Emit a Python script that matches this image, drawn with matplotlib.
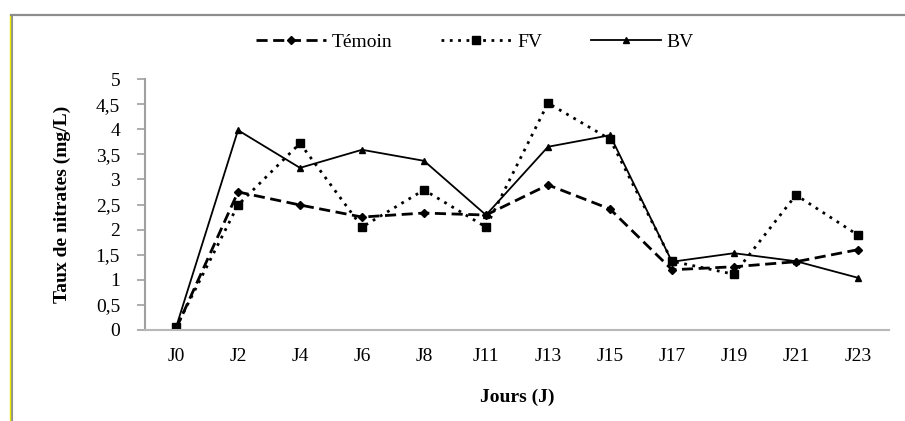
import matplotlib
matplotlib.use("Agg")
import matplotlib.pyplot as plt
from matplotlib.lines import Line2D
from matplotlib.ticker import FuncFormatter

plt.rcParams['font.family'] = ['Liberation Serif', 'DejaVu Serif']

jours = ['J0', 'J2', 'J4', 'J6', 'J8', 'J11', 'J13', 'J15', 'J17', 'J19', 'J21', 'J23']
temoin = [0.02, 2.75, 2.49, 2.25, 2.33, 2.29, 2.89, 2.41, 1.20, 1.26, 1.36, 1.60]
fv = [0.05, 2.49, 3.72, 2.05, 2.79, 2.05, 4.52, 3.80, 1.37, 1.11, 2.69, 1.89]
bv = [0.05, 3.98, 3.23, 3.59, 3.37, 2.29, 3.65, 3.88, 1.36, 1.53, 1.37, 1.04]

fig = plt.figure(figsize=(9.05, 4.21), dpi=100)
ax = fig.add_axes([145 / 905, (421 - 330) / 421, 744 / 905, 251 / 421])

x = range(len(jours))
ax.plot(x, temoin, color='black', lw=2, ls=(0, (4, 2)), marker='D', ms=4, label='Témoin')
ax.plot(x, fv, color='black', lw=2, ls=(0, (1, 2)), marker='s', ms=6, label='FV')
ax.plot(x, bv, color='black', lw=1.3, ls='-', marker='^', ms=5, label='BV')

ax.set_xlim(-0.5, len(jours) - 0.5)
ax.set_ylim(0, 5)
ax.set_yticks([i * 0.5 for i in range(11)])
ax.yaxis.set_major_formatter(FuncFormatter(lambda v, p: ('%g' % v).replace('.', ',')))
ax.set_xticks(list(x))
ax.set_xticklabels(jours)

for s in ['top', 'right']:
    ax.spines[s].set_visible(False)
ax.spines['left'].set_color('#a0a0a0')
ax.spines['bottom'].set_color('#b8b8b8')
ax.spines['left'].set_linewidth(1.5)
ax.spines['bottom'].set_linewidth(1.5)
ax.tick_params(axis='y', length=6, width=1.2, color='#a0a0a0', pad=12, labelsize=14)
ax.tick_params(axis='x', length=0, pad=13, labelsize=14)

ax.set_ylabel('Taux de nitrates (mg/L)', fontsize=14, fontweight='bold', labelpad=18)
ax.set_xlabel('Jours (J)', fontsize=14, fontweight='bold', labelpad=17)

fig.legend(loc='center', bbox_to_anchor=(0.525, 0.9), ncol=3, frameon=False,
           fontsize=14, handlelength=3.6, columnspacing=2.5, handletextpad=0.3)

# cadre
fig.add_artist(Line2D([12 / 905, 12 / 905], [0, (421 - 14.5) / 421], color='#8c8c8c', lw=1.4))
fig.add_artist(Line2D([9.5 / 905, 9.5 / 905], [0, (421 - 14.5) / 421], color='#e8e800', lw=1.0))
fig.add_artist(Line2D([11 / 905, 1], [(421 - 14.5) / 421] * 2, color='#8c8c8c', lw=1.6))

fig.savefig('out.png', dpi=100)
